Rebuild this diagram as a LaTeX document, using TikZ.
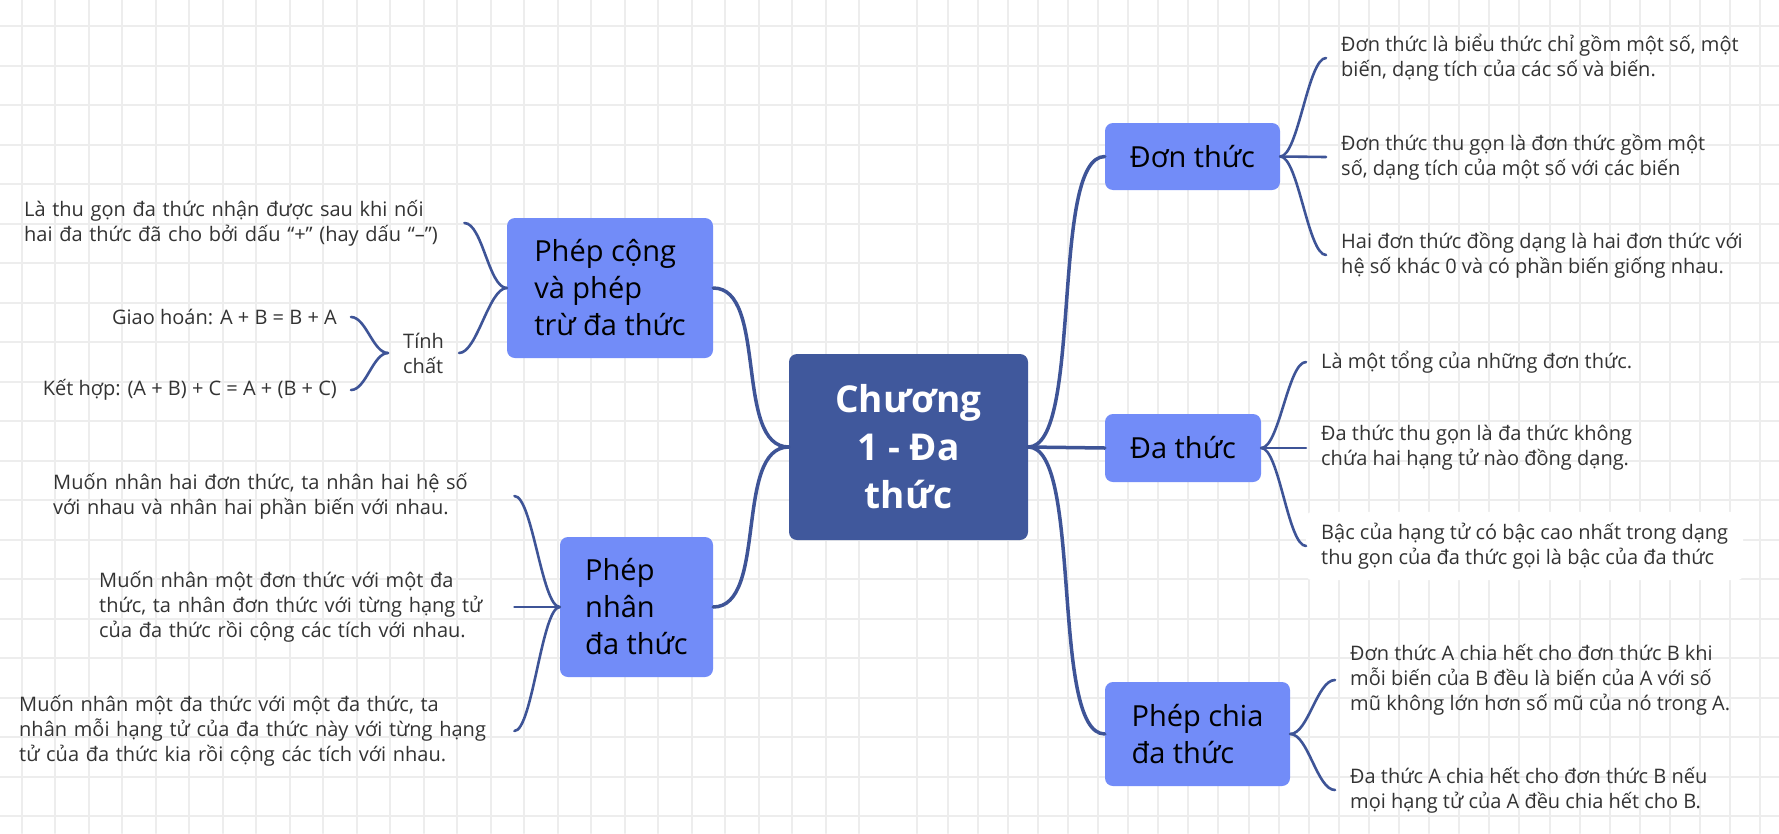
\documentclass[tikz,border=0pt]{standalone}
\usepackage{fontspec}
\setmainfont{Open Sans}
\usepackage{xcolor}
\definecolor{mapdark}{HTML}{40589C}
\definecolor{mapline}{HTML}{3E5497}
\definecolor{maptopic}{HTML}{728CF8}
\definecolor{mapgrid}{HTML}{EDEDED}
\definecolor{maptext}{HTML}{333333}

\begin{document}
\begin{tikzpicture}[x=1pt,y=-1pt,line cap=round,
    rb/.style={to path={.. controls +(#1,0) and +(-#1,0) .. (\tikztotarget)}},
    lb/.style={to path={.. controls +(-#1,0) and +(#1,0) .. (\tikztotarget)}}]
  \tikzstyle{root}=[fill=mapdark,text=white,rounded corners=8pt,align=center,inner sep=0pt,font=\fontsize{37}{48}\selectfont\bfseries]
  \tikzstyle{topic}=[fill=maptopic,text=black,rounded corners=8pt,align=left,inner sep=0pt,font=\fontsize{29}{37}\selectfont]
  \tikzstyle{leaf}=[text=maptext,align=left,inner xsep=15pt,inner ysep=0pt,font=\fontsize{20}{25}\selectfont]
  \tikzstyle{trunk}=[draw=mapline,line width=3.5pt]
  \tikzstyle{twig}=[draw=mapline,line width=2.6pt]

  % paper
  \useasboundingbox (0,0) rectangle (1779,833);
  \fill[white] (0,0) rectangle (1779,833);
  \foreach \gx in {0,...,25} \draw[mapgrid,line width=2pt] ({21.6+33.5*\gx},0) -- ++(0,833);
  \foreach \gx in {1,...,29} \draw[mapgrid,line width=2pt] ({887.3+30.1*\gx},0) -- ++(0,833);
  \foreach \gy in {0,...,20} \draw[mapgrid,line width=2pt] (0,{26+39.5*\gy}) -- ++(1779,0);

  % main topics
  \node[root,minimum width=239pt,minimum height=186pt] (root) at (908.5,447) {Chương\\1 - Đa\\thức};
  \node[topic,minimum width=175pt,minimum height=67pt] (don) at (1192.5,156.5) {Đơn thức};
  \node[topic,minimum width=156pt,minimum height=68pt] (da) at (1183,448) {Đa thức};
  \node[topic,minimum width=185pt,minimum height=104pt] (chia) at (1197.5,734) {Phép chia\\đa thức};
  \node[topic,minimum width=206pt,minimum height=140pt] (cong) at (610,288) {Phép cộng\\và phép\\trừ đa thức};
  \node[topic,minimum width=153pt,minimum height=140pt] (nhan) at (636.5,607) {Phép\\nhân\\đa thức};

  % right side
  \node[leaf,anchor=west] (don1) at (1326,58) {Đơn thức là biểu thức chỉ gồm một số, một\\biến, dạng tích của các số và biến.};
  \node[leaf,anchor=west] (don2) at (1326,157) {Đơn thức thu gọn là đơn thức gồm một\\số, dạng tích của một số với các biến};
  \node[leaf,anchor=west] (don3) at (1326,255) {Hai đơn thức đồng dạng là hai đơn thức với\\hệ số khác 0 và có phần biến giống nhau.};
  \node[leaf,anchor=west] (da1) at (1306,362) {Là một tổng của những đơn thức.};
  \node[leaf,anchor=west] (da2) at (1306,448) {Đa thức thu gọn là đa thức không\\chứa hai hạng tử nào đồng dạng.};
  \node[leaf,anchor=west,fill=white,rounded corners=6pt,inner ysep=11pt] (da3) at (1306,546) {Bậc của hạng tử có bậc cao nhất trong dạng\\thu gọn của đa thức gọi là bậc của đa thức};
  \node[leaf,anchor=west] (chia1) at (1335,680) {Đơn thức A chia hết cho đơn thức B khi\\mỗi biến của B đều là biến của A với số\\mũ không lớn hơn số mũ của nó trong A.};
  \node[leaf,anchor=west] (chia2) at (1335,790) {Đa thức A chia hết cho đơn thức B nếu\\mọi hạng tử của A đều chia hết cho B.};

  % left side
  \node[leaf,anchor=west,text width=425pt] (cong1) at (9,223) {Là thu gọn đa thức nhận được sau khi nối\\hai đa thức đã cho bởi dấu “+” (hay dấu “–”)};
  \node[leaf,anchor=west] (cong2) at (388,353) {Tính\\chất};
  \node[leaf,anchor=east,inner xsep=14pt] (cong3) at (351,317) {Giao hoán: A + B = B + A};
  \node[leaf,anchor=east,inner xsep=14pt] (cong4) at (351,390) {Kết hợp: (A + B) + C = A + (B + C)};
  \node[leaf,anchor=west,text width=446pt] (nhan1) at (38,496) {Muốn nhân hai đơn thức, ta nhân hai hệ số\\với nhau và nhân hai phần biến với nhau.};
  \node[leaf,anchor=west,text width=400pt] (nhan2) at (84,607) {Muốn nhân một đơn thức với một đa\\thức, ta nhân đơn thức với từng hạng tử\\của đa thức rồi cộng các tích với nhau.};
  \node[leaf,anchor=west,text width=480pt] (nhan3) at (4,731) {Muốn nhân một đa thức với một đa thức, ta\\nhân mỗi hạng tử của đa thức này với từng hạng\\tử của đa thức kia rồi cộng các tích với nhau.};

  \path (root.east) edge [trunk,rb=55] (don.west)
                    edge [trunk]       (da.west)
                    edge [trunk,rb=55] (chia.west)
        (root.west) edge [trunk,lb=55] (cong.east)
                    edge [trunk,lb=55] (nhan.east)
        (don.east)  edge [twig,rb=18]  (don1.west)
                    edge [twig]        (don2.west)
                    edge [twig,rb=18]  (don3.west)
        (da.east)   edge [twig,rb=18]  (da1.west)
                    edge [twig]        (da2.west)
                    edge [twig,rb=18]  (da3.west)
        (chia.east) edge [twig,rb=18]  (chia1.west)
                    edge [twig,rb=18]  (chia2.west)
        (cong.west) edge [twig,lb=18]  (cong1.east)
                    edge [twig,lb=18]  (cong2.east)
        (cong2.west) edge [twig,lb=15] (cong3.east)
                    edge [twig,lb=15]  (cong4.east)
        (nhan.west) edge [twig,lb=18]  (nhan1.east)
                    edge [twig]        (nhan2.east)
                    edge [twig,lb=18]  (nhan3.east);
\end{tikzpicture}
\end{document}
